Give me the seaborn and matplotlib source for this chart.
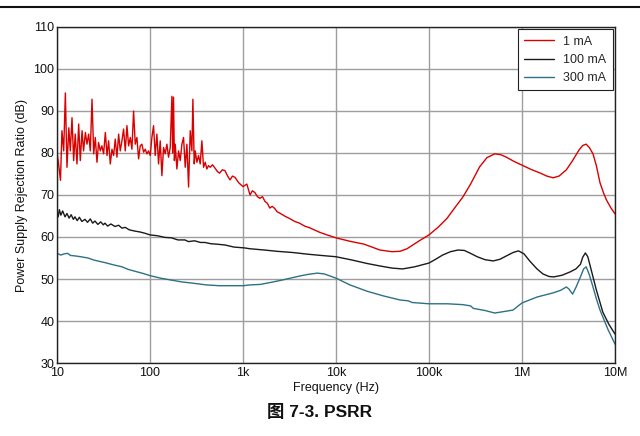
import matplotlib
matplotlib.use("Agg")
import matplotlib.pyplot as plt
from matplotlib.lines import Line2D
import seaborn as sns
import pandas as pd

# ---- data ----
red_freq = [10, 10.4, 10.9, 11.3, 11.8, 12.3, 12.8, 13.4, 13.9, 14.5, 15.1, 15.7, 16.4, 17.1,
            17.8, 18.6, 19.3, 20.2, 21.0, 21.9, 22.8, 23.8, 24.8, 25.8, 26.9, 28.0, 29.2, 30.4,
            31.7, 33.1, 34.5, 35.9, 37.4, 39.0, 40.6, 42.3, 44.1, 46.0, 47.9, 49.9, 52.0, 54.2,
            56.5, 58.9, 61.4, 63.9, 66.6, 69.4, 72.3, 75.4, 78.5, 81.8, 85.3, 88.9, 92.6, 96.5,
            100.6, 104.8, 109.2, 113.8, 118.6, 123.6, 128.8, 134.2, 139.9, 145.8, 151.9, 158.3,
            165, 172, 175.5, 179, 183, 186.8, 194.6, 202.8, 211.4, 220.3, 229.5, 239.2, 249.3,
            259.8, 270.7, 282.1, 289.2, 298.9, 306.4, 319.3, 332.7, 346.7, 361.3, 376.5, 392.3,
            408.8, 426, 444, 470, 500, 530, 560, 600, 640, 680, 725, 770, 820, 900, 1000, 1100,
            1190, 1260, 1340, 1430, 1520, 1620, 1720, 1830, 1940, 2060, 2190, 2330, 2480, 2800,
            3170, 3600, 4050, 4600, 5200, 6700, 8000, 10000, 14000, 20000, 29700, 40000, 48900,
            58000, 67000, 80000, 100000, 125000, 157000, 190000, 231000, 280000, 350000, 420000,
            510000, 590000, 680000, 820000, 1000000, 1250000, 1580000, 1850000, 2160000, 2500000,
            3000000, 3500000, 4100000, 4500000, 4900000, 5300000, 5800000, 6300000, 6900000,
            7500000, 8100000, 9000000, 10000000]
red_db = [80, 77.4, 73.5, 85.3, 80.5, 94.3, 76.6, 86, 80.5, 88.4, 78.2, 84.5, 77.4, 86.9,
          78.2, 85.3, 80.5, 84.9, 82.1, 84.5, 80.5, 92.8, 79.8, 83.7, 77.8, 82.5, 80.5, 81.7,
          79.8, 84.9, 79.4, 82.9, 77.4, 80.9, 79.4, 83.3, 79, 84.5, 80.5, 82.9, 85.7, 80.5,
          86.5, 81.7, 83.7, 80.9, 90, 82.1, 83.7, 78.6, 81.7, 82.1, 80.2, 80.9, 79.8, 80.5,
          79.4, 83.7, 86.5, 79.4, 84.5, 77.4, 82.9, 74.6, 81.3, 79.8, 82.1, 79,
          81.3, 93.5, 80, 93.3, 78.2, 82.1, 76.2, 80.5, 78.2, 82.1, 83.7, 76.6, 82.1,
          71.9, 85.3, 80.5, 92.8, 77.4, 80.5, 77.8, 79.4, 77.4, 82.9, 76.6, 77.8,
          76.2, 77, 76.6, 77.2, 76.4, 75.6, 75.2, 76.0, 75.8, 74.6, 73.6, 74.5, 74.2, 72.9, 72.0, 72.6,
          70.0, 71.0, 70.6, 69.6, 69.2, 69.6, 68.5, 68.0, 66.9, 67.3, 66.8, 66.0, 65.7, 65.0,
          64.4, 63.7, 63.3, 62.6, 62.2, 61.1, 60.5, 59.8, 59.0, 58.3, 56.9, 56.5, 56.6,
          57.2, 58.1, 59.2, 60.5, 62.3, 64.5, 67.0, 69.5, 72.6, 76.7, 78.9,
          79.8, 79.6, 79.0, 78.0, 77.1, 76.1, 75.2, 74.5, 74.1, 74.5,
          76.0, 78.2, 80.7, 81.8, 82.1, 81.3, 79.8, 77.0, 72.9,
          70.6, 68.8, 67.0, 65.5]

black_freq = [10, 10.3, 10.6, 11.0, 11.5, 12.2, 12.8, 13.5, 14.2, 15.0, 15.6, 16.5, 17.4, 18.5,
              20, 21.3, 22.8, 24.2, 25.6, 27.5, 29.5, 31.5, 32.8, 35, 38, 42, 46, 50, 54, 60,
              69, 78, 88, 100, 120, 145, 170, 200, 237, 260, 300, 350, 390, 450, 520, 640, 800,
              1040, 1190, 1340, 1700, 2300, 3450, 5000, 7000, 10000, 15000, 21500, 29700, 40000,
              52000, 70000, 100000, 120000, 140000, 170000, 205000, 240000, 280000, 330000,
              400000, 490000, 580000, 680000, 800000, 915000, 1050000, 1220000, 1450000,
              1680000, 1950000, 2200000, 2700000, 3300000, 3800000, 4250000, 4500000, 4800000,
              5100000, 5500000, 6300000, 7400000, 8600000, 10000000]
black_db = [66.0, 64.8, 66.5, 65.2, 66.2, 64.8, 65.6, 64.5, 65.3, 64.2, 64.8, 63.9, 64.7, 63.7,
            64.2, 63.5, 64.3, 63.3, 63.8, 63.0, 63.6, 62.9, 63.3, 62.6, 63.1, 62.5, 62.8, 62.1, 62.3, 61.7,
            61.4, 61.2, 60.9, 60.5, 60.3, 59.9, 59.8, 59.3, 59.3, 58.9, 59.1, 58.7, 58.7, 58.4, 58.3, 58.1, 57.6,
            57.4, 57.2, 57.1, 56.9, 56.6, 56.3, 55.9, 55.6, 55.3, 54.5, 53.7, 53.1, 52.6,
            52.4, 52.9, 53.8, 54.8, 55.7, 56.5, 56.9, 56.8, 56.1, 55.3,
            54.6, 54.3, 54.7, 55.5, 56.3, 56.7, 56.0, 54.2, 52.4,
            51.2, 50.6, 50.5, 50.9, 51.7, 52.4, 53.5, 55.2, 56.2,
            55.3, 52.5, 47.4, 42.1, 39.2, 36.9]

teal_freq = [10, 11, 12, 13, 14, 15.6, 18, 21.5, 25, 32.8, 40, 50, 58, 70, 85, 100, 130, 164, 220,
             290, 400, 560, 750, 1000, 1190, 1520, 2000, 2700, 4050, 5000, 6300, 7500, 10000,
             14100, 21500, 32000, 48900, 60000, 66000, 100000, 157000, 230000, 280000, 300000,
             400000, 510000, 800000, 1000000, 1450000, 2160000, 2600000, 3000000, 3200000,
             3500000, 3800000, 4250000, 4600000, 4900000, 5300000, 5800000, 6300000, 6900000,
             8400000, 10000000]
teal_db = [56.1, 55.7, 56.0, 56.1, 55.6, 55.5, 55.3, 55.0, 54.5, 53.9, 53.4, 52.9, 52.3, 51.8, 51.3,
           50.8, 50.2, 49.8, 49.3, 49.0, 48.6, 48.4, 48.4, 48.4, 48.6, 48.7, 49.2, 49.8, 50.7, 51.1,
           51.4, 51.2, 50.2, 48.6, 47.1, 46.0, 45.0, 44.8, 44.4, 44.1, 44.1, 43.9, 43.6, 43.0,
           42.5, 41.9, 42.6, 44.3, 45.7, 46.7, 47.3, 48.1, 47.6,
           46.4, 48.0, 50.5, 52.4, 52.9, 51.0, 48.1, 45.3, 42.6,
           38.0, 34.5]

series_names = ["1 mA", "100 mA", "300 mA"]
series_colors = ["#d90000", "#1a1a1a", "#2e7086"]
x_ticks = [10, 100, 1000, 10000, 100000, 1000000, 10000000]
x_tick_labels = ["10", "100", "1k", "10k", "100k", "1M", "10M"]
y_ticks = [30, 40, 50, 60, 70, 80, 90, 100, 110]

df = pd.concat([
    pd.DataFrame({"freq": red_freq, "db": red_db, "series": series_names[0]}),
    pd.DataFrame({"freq": black_freq, "db": black_db, "series": series_names[1]}),
    pd.DataFrame({"freq": teal_freq, "db": teal_db, "series": series_names[2]}),
], ignore_index=True)

sns.set_theme(style="white")
plt.rcParams["font.family"] = ["Liberation Sans", "Noto Sans CJK SC", "DejaVu Sans"]

fig = plt.figure(figsize=(6.4, 4.36), dpi=100)
ax = fig.add_axes([57 / 640, 1 - 363 / 436, (615 - 57) / 640, (363 - 27) / 436])

sns.lineplot(data=df, x="freq", y="db", hue="series", hue_order=series_names,
             palette=dict(zip(series_names, series_colors)), estimator=None,
             sort=False, linewidth=1.0, ax=ax)

ax.set_xscale("log")
ax.set_xlim(10, 10000000)
ax.set_ylim(30, 110)
ax.set_xticks(x_ticks)
ax.set_xticklabels(x_tick_labels)
ax.minorticks_off()
ax.set_yticks(y_ticks)
ax.grid(True, which="major", color="#9e9e9e", linewidth=1.0)
ax.set_axisbelow(True)
for s in ax.spines.values():
    s.set_color("#222222")
    s.set_linewidth(1.0)
ax.tick_params(axis="both", length=0, labelsize=9, colors="#111111")
ax.tick_params(axis="x", pad=3)
ax.tick_params(axis="y", pad=2)
ax.set_xlabel("Frequency (Hz)", fontsize=9, labelpad=2, color="#111111")
ax.set_ylabel("Power Supply Rejection Ratio (dB)", fontsize=9, labelpad=4, color="#111111")

handles, labels = ax.get_legend_handles_labels()
leg = ax.legend(handles, labels, loc="upper right", fontsize=9, frameon=True,
                fancybox=False, framealpha=1, edgecolor="#222222", borderaxespad=0.2,
                handlelength=2.4, handletextpad=0.7, labelspacing=0.5, borderpad=0.5)
leg.get_frame().set_linewidth(0.8)

fig.add_artist(Line2D([0, 1], [1 - 7.5 / 436, 1 - 7.5 / 436], color="#111111", linewidth=1.5))
fig.text(0.5, 1 - 412 / 436, "图 7-3. PSRR", ha="center", va="center", fontsize=12.5,
         fontweight="bold", color="#111111")

fig.savefig("out.png", dpi=100)
